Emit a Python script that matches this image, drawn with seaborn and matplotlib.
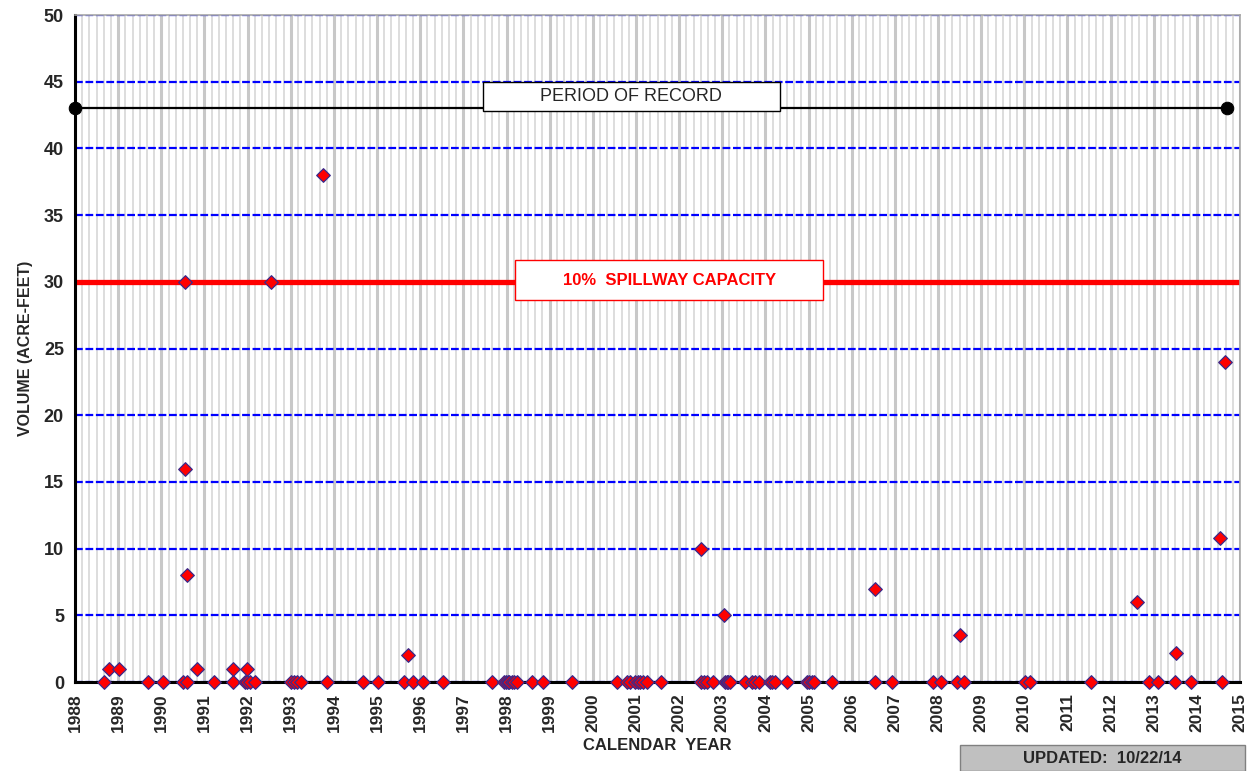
import matplotlib
matplotlib.use("Agg")
import matplotlib.pyplot as plt
import seaborn as sns
import numpy as np
import pandas as pd
from matplotlib.ticker import MultipleLocator
from matplotlib.patches import Rectangle

# spill events: decimal year and volume (acre-feet)
zero_years = [1988.68, 1989.68, 1990.03, 1990.51, 1990.60, 1991.22, 1991.67, 1991.94,
              1991.99, 1992.06, 1992.17, 1993.01, 1993.08, 1993.14, 1993.23, 1993.85,
              1994.67, 1995.01, 1995.62, 1995.84, 1996.06, 1996.52, 1997.67, 1997.93,
              1997.98, 1998.03, 1998.06, 1998.12, 1998.17, 1998.24, 1998.60, 1998.84,
              1999.52, 2000.57, 2000.79, 2000.86, 2000.98, 2001.04, 2001.09, 2001.16,
              2001.25, 2001.58, 2002.50, 2002.58, 2002.65, 2002.78, 2003.06, 2003.10,
              2003.14, 2003.18, 2003.53, 2003.68, 2003.76, 2003.84, 2004.11, 2004.16,
              2004.22, 2004.49, 2004.96, 2005.01, 2005.07, 2005.13, 2005.55, 2006.54,
              2006.93, 2007.88, 2008.07, 2008.44, 2008.60, 2010.02, 2010.13, 2011.55,
              2012.90, 2013.09, 2013.49, 2013.86, 2014.57]
spill_years = [1988.78, 1989.01, 1990.55, 1990.55, 1990.60, 1990.82, 1991.67, 1991.98,
               1992.54, 1993.75, 1995.72, 2002.50, 2003.04, 2006.54, 2008.51, 2012.61,
               2013.51, 2014.54, 2014.65]
spill_volumes = [1, 1, 30, 16, 8, 1, 1, 1, 30, 38, 2, 10, 5, 7, 3.5, 6, 2.2, 10.8, 24]

record_years = [1988.0, 2014.70]
record_level = [43, 43]
spillway_capacity = 30
year_ticks = list(range(1988, 2016))

events = pd.DataFrame({
    "year": zero_years + spill_years,
    "volume": [0] * len(zero_years) + spill_volumes,
})

sns.set_style("white")
plt.rcParams["font.family"] = ["Liberation Sans", "DejaVu Sans"]

fig = plt.figure(figsize=(12.55, 7.71), dpi=100)
ax = fig.add_axes([0.0598, 0.1154, 0.9283, 0.8651])

ax.set_xlim(1988, 2015)
ax.set_ylim(0, 50)

# grid
ax.xaxis.set_major_locator(MultipleLocator(1))
ax.xaxis.set_minor_locator(MultipleLocator(1 / 6))
ax.yaxis.set_major_locator(MultipleLocator(5))
ax.xaxis.grid(True, which="minor", color="#dadada", lw=1.3, zorder=0)
ax.xaxis.grid(True, which="major", color="#c8c8c8", lw=2.2, zorder=0)
ax.yaxis.grid(True, which="major", color="#0000ff", lw=1.6, linestyle=(0, (3.5, 1.2)), zorder=1)
ax.set_axisbelow(True)

# spillway capacity line
ax.axhline(spillway_capacity, color="#ff0000", lw=3.8, zorder=2)

# period of record
sns.lineplot(x=record_years, y=record_level, ax=ax, color="black", lw=1.6,
             marker="o", markersize=9, markeredgecolor="black", zorder=3)
for ln in ax.lines[-1:]:
    ln.set_clip_on(False)

sns.scatterplot(data=events, x="year", y="volume", ax=ax, marker="D", s=48,
                color="#ff0000", edgecolor="#3a2a8c", linewidth=0.9, zorder=5,
                clip_on=False)

# label boxes
ax.add_patch(Rectangle((0.350, 0.856), 0.255, 0.0436, transform=ax.transAxes,
                       facecolor="white", edgecolor="black", lw=1.0, zorder=4))
ax.text(0.4775, 0.878, "PERIOD OF RECORD", transform=ax.transAxes, ha="center",
        va="center", fontsize=13, zorder=6)
ax.add_patch(Rectangle((0.3777, 0.5727), 0.2643, 0.06, transform=ax.transAxes,
                       facecolor="white", edgecolor="#ff0000", lw=1.0, zorder=4))
ax.text(0.510, 0.6027, "10%  SPILLWAY CAPACITY", transform=ax.transAxes, ha="center",
        va="center", fontsize=12, fontweight="bold", color="#ff0000", zorder=6)

# axes styling
for side in ["left", "bottom"]:
    ax.spines[side].set_color("black")
    ax.spines[side].set_linewidth(2.2)
for side in ["top", "right"]:
    ax.spines[side].set_color("#a8a8a8")
    ax.spines[side].set_linewidth(1.2)

ax.set_xticks(year_ticks)
ax.set_xticklabels([str(y) for y in year_ticks], rotation=90, fontsize=12.5,
                   fontweight="bold")
ax.set_yticks(range(0, 51, 5))
ax.set_yticklabels([str(v) for v in range(0, 51, 5)], fontsize=13, fontweight="bold")
ax.tick_params(axis="both", which="major", direction="out", length=5, width=1.8,
               color="black", pad=3)
ax.tick_params(axis="x", which="minor", length=0)

ax.set_xlabel("CALENDAR  YEAR", fontsize=12, fontweight="bold", labelpad=4)
ax.set_ylabel("VOLUME (ACRE-FEET)", fontsize=11.5, fontweight="bold", labelpad=8)

# updated box
fig.patches.append(Rectangle((0.765, 0.0), 0.227, 0.0337, transform=fig.transFigure,
                             facecolor="#c0c0c0", edgecolor="#808080", lw=1.0))
fig.text(0.8785, 0.0165, "UPDATED:  10/22/14", ha="center", va="center",
         fontsize=12, fontweight="bold")

fig.savefig("out.png", dpi=100)
